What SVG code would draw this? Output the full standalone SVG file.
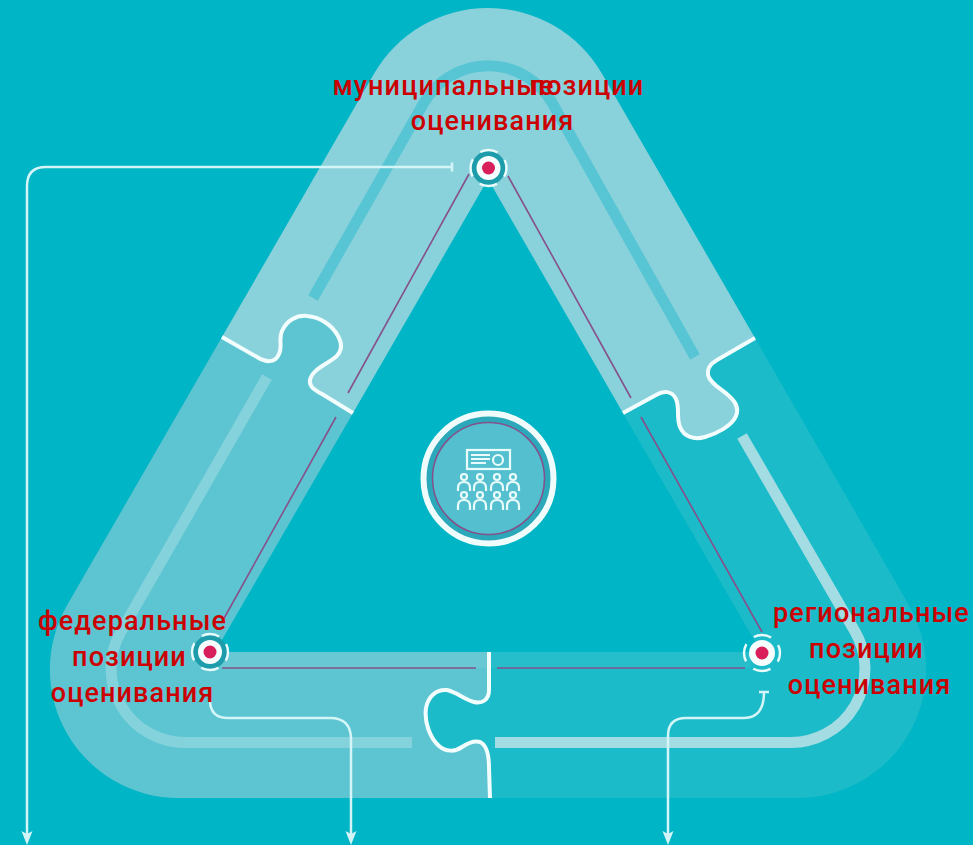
<svg xmlns="http://www.w3.org/2000/svg" width="973" height="845" viewBox="0 0 973 845">
<style>
.lbl{font-family:"Roboto","Liberation Sans",sans-serif;font-size:27px;font-weight:500;letter-spacing:1.1px;fill:#cc0000;text-anchor:middle}
.seam{fill:none;stroke:#f2fdfd;stroke-width:4;stroke-linecap:butt}
.track{fill:none;stroke-width:11;stroke-linecap:butt}
.rel{fill:none;stroke:#86508a;stroke-width:1.6}
.flow{fill:none;stroke:#d4f5f7;stroke-width:2.500}
.ico{fill:none;stroke:#eafbfb;stroke-width:2.200}
.halo{fill:none;stroke:#eafbfb;stroke-width:2.400;stroke-dasharray:18 10.27;stroke-dashoffset:9}
</style>
<defs>
<marker id="head" markerUnits="userSpaceOnUse" viewBox="0 0 14 12" markerWidth="14" markerHeight="12" refX="5" refY="6" orient="auto">
<path d="M0,0.500 L14,6 L0,11.500 L3,6 Z" fill="#d4f5f7"/>
</marker>
</defs>
<rect width="973" height="845" fill="#00b5c5"/>
<g id="band">
<path id="piece-top" fill="#8ad2db" d="M222,337 L374,73.8 A131.6,131.6 0 0 1 602,73.8 L755,338 L717,360 C710,364 707,369 708,375 C710,384 722,389 729,396 C736,402 739,409 736,416 C732,426 716,434 705,437 C694,440 684,437 680,427 C676,417 680,408 676,399 C672,391 664,390 656,395 L623,413 L488,179 L353,413 L322,394 C315,390 309,387 310,380 C312,370 325,365 333,359 C342,353 343,345 338,336 C332,325 320,317 307,316 C297,315 287,320 282,331 C278,340 283,346 279,354 C275,364 265,362 257,357 Z"/>
<path id="piece-left" fill="#5dc5d1" d="M222,337 L257,357 C265,362 275,364 279,354 C283,346 278,340 282,331 C287,320 297,315 307,316 C320,317 332,325 338,336 C343,345 342,353 333,359 C325,365 312,370 310,380 C309,387 315,390 322,394 L353,413 L215,652 L489,652 L489,690 C489,700 482,704 474,702 C466,700 456,692 447,690 C436,689 428,697 426,708 C424,722 430,738 439,746 C446,752 455,752 462,747 C468,743 474,740 480,742 C487,745 489,755 489,768 L490,798 L178.6,798 A128.6,128.6 0 0 1 67.2,605 Z"/>
<path id="piece-right" fill="#1cbbc9" d="M755,338 L908.8,605 A128.6,128.6 0 0 1 797.4,798 L490,798 L489,768 C489,755 487,745 480,742 C474,740 468,743 462,747 C455,752 446,752 439,746 C430,738 424,722 426,708 C428,697 436,689 447,690 C456,692 466,700 474,702 C482,704 489,700 489,690 L489,652 L761,652 L623,413 L656,395 C664,390 672,391 676,399 C680,408 676,417 680,427 C684,437 694,440 705,437 C716,434 732,426 736,416 C739,409 736,402 729,396 C722,389 710,384 708,375 C707,369 710,364 717,360 Z"/>
<rect x="222" y="652" width="267" height="16" fill="#ffffff" fill-opacity=".07"/>
<rect x="489" y="652" width="262" height="16" fill="#ffffff" fill-opacity=".05"/>
<path class="track" stroke="#58c5d4" d="M313,298 L424,102.6 A74,74 0 0 1 552,102.6 L695,357"/>
<path class="track" stroke="#84d2db" d="M267,377 L121,631.5 A74,74 0 0 0 185,742.5 L412,742.5"/>
<path class="track" stroke="#a3dde3" d="M742,436 L855,631.5 A74,74 0 0 1 791,742.5 L495,742.5"/>
<path class="seam" d="M222,337 L257,357 C265,362 275,364 279,354 C283,346 278,340 282,331 C287,320 297,315 307,316 C320,317 332,325 338,336 C343,345 342,353 333,359 C325,365 312,370 310,380 C309,387 315,390 322,394 L353,413"/>
<path class="seam" d="M755,338 L717,360 C710,364 707,369 708,375 C710,384 722,389 729,396 C736,402 739,409 736,416 C732,426 716,434 705,437 C694,440 684,437 680,427 C676,417 680,408 676,399 C672,391 664,390 656,395 L623,413"/>
<path class="seam" d="M489,652 L489,690 C489,700 482,704 474,702 C466,700 456,692 447,690 C436,689 428,697 426,708 C424,722 430,738 439,746 C446,752 455,752 462,747 C468,743 474,740 480,742 C487,745 489,755 489,768 L490,798"/>
</g>
<g id="connectors">
<path class="rel" d="M469,174 L348,393"/>
<path class="rel" d="M336,417 L222,622"/>
<path class="rel" d="M508,176 L631,398"/>
<path class="rel" d="M641,417 L762,632"/>
<path class="rel" d="M222,668 L476,668"/>
<path class="rel" d="M497,668 L745,668"/>
<path class="flow" marker-end="url(#head)" d="M452,167 L46,167 Q27,167 27,186 L27,836"/>
<path class="flow" stroke-width="1.500" d="M452,162.500 L452,171.500"/>
<path class="flow" marker-end="url(#head)" d="M210,700 Q210,718 228,718 L330,718 Q351,718 351,739 L351,836"/>
<path class="flow" marker-end="url(#head)" d="M764,692 Q764,718 744,718 L686,718 Q668,718 668,736 L668,836"/>
<path class="flow" d="M759,692 L769,692"/>
</g>
<g id="node-center">
<circle cx="488.500" cy="478.500" r="65" fill="#2ba9ba" stroke="#f0fcfc" stroke-width="6"/>
<circle cx="488.500" cy="478.500" r="56" fill="#54c0cf" stroke="#86508a" stroke-width="1.5"/>
<rect class="ico" x="467" y="450" width="43" height="19"/>
<path class="ico" stroke-width="1.500" d="M471,455 H490 M471,459 H490 M471,463 H486"/>
<circle class="ico" cx="498" cy="460" r="5"/>
<g id="people" class="ico">
<circle cx="464" cy="477" r="3"/><circle cx="480" cy="477" r="3"/><circle cx="497" cy="477" r="3"/><circle cx="513" cy="477" r="3"/>
<circle cx="464" cy="495" r="3"/><circle cx="480" cy="495" r="3"/><circle cx="497" cy="495" r="3"/><circle cx="513" cy="495" r="3"/>
<path d="M458,491 V488 Q458,482 464,482 Q470,482 470,488 V491 M474,491 V488 Q474,482 480,482 Q486,482 486,488 V491 M491,491 V488 Q491,482 497,482 Q503,482 503,488 V491 M507,491 V488 Q507,482 513,482 Q519,482 519,488 V491"/>
<path d="M458,510 V506 Q458,500 464,500 Q470,500 470,506 V510 M474,510 V506 Q474,500 480,500 Q486,500 486,506 V510 M491,510 V506 Q491,500 497,500 Q503,500 503,506 V510 M507,510 V506 Q507,500 513,500 Q519,500 519,506 V510"/>
</g>
</g>
<g id="node-municipal">
<circle cx="488.500" cy="168" r="17" fill="#1d9dab"/>
<circle class="halo" cx="488.500" cy="168" r="18"/>
<circle cx="488.500" cy="168" r="12" fill="#f5fdfd"/>
<circle cx="488.500" cy="168" r="6.500" fill="#d81f5c"/>
<text class="lbl" x="443.500" y="95">муниципальные</text>
<text class="lbl" x="587" y="95">позиции</text>
<text class="lbl" x="492.500" y="130">оценивания</text>
</g>
<g id="node-federal">
<circle cx="210" cy="652" r="17" fill="#1d9dab"/>
<circle class="halo" cx="210" cy="652" r="18"/>
<circle cx="210" cy="652" r="12" fill="#f5fdfd"/>
<circle cx="210" cy="652" r="6.500" fill="#d81f5c"/>
<text class="lbl" x="132.500" y="630">федеральные</text>
<text class="lbl" x="129.500" y="666">позиции</text>
<text class="lbl" x="132.500" y="702">оценивания</text>
</g>
<g id="node-regional">
<circle class="halo" cx="762" cy="653" r="18"/>
<circle cx="762" cy="653" r="13" fill="#f5fdfd"/>
<circle cx="762" cy="653" r="6.500" fill="#d81f5c"/>
<text class="lbl" x="871.500" y="622">региональные</text>
<text class="lbl" x="866.500" y="658">позиции</text>
<text class="lbl" x="869.500" y="694">оценивания</text>
</g>
</svg>
